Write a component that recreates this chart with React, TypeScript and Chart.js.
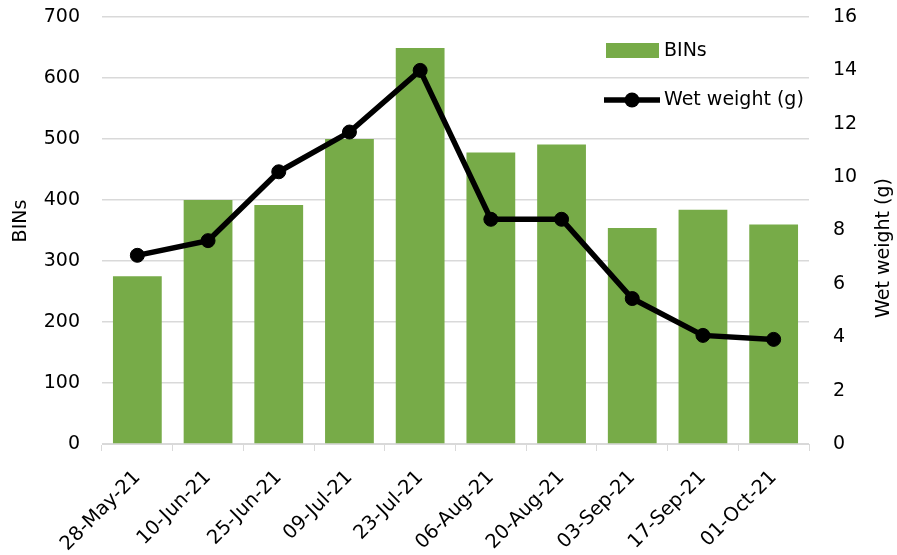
import React, { useEffect, useRef } from "react";
import { Chart, registerables } from "chart.js";

Chart.register(...registerables);

const categories = [
  "28-May-21", "10-Jun-21", "25-Jun-21", "09-Jul-21", "23-Jul-21",
  "06-Aug-21", "20-Aug-21", "03-Sep-21", "17-Sep-21", "01-Oct-21",
];
const binsValues = [275, 400, 392, 500, 649, 478, 491, 354, 384, 360];
const wetWeightValues = [7.07, 7.62, 10.2, 11.69, 14.0, 8.42, 8.42, 5.45, 4.07, 3.92];
const leftTicks = [0, 100, 200, 300, 400, 500, 600, 700];
const rightTicks = [0, 2, 4, 6, 8, 10, 12, 14, 16];

const BAR_COLOR = "#77AB48";
const FONT = "DejaVu Sans";

const overlayPlugin = {
  id: "overlay",
  afterDraw(chart: any) {
    const ctx = chart.ctx as CanvasRenderingContext2D;
    ctx.save();
    ctx.font = `19px "${FONT}"`;
    ctx.fillStyle = "#000";
    ctx.textBaseline = "middle";
    // legend
    ctx.fillStyle = BAR_COLOR;
    ctx.fillRect(606, 43, 53, 15);
    ctx.fillStyle = "#000";
    ctx.textAlign = "left";
    ctx.fillText("BINs", 664, 51);
    ctx.strokeStyle = "#000";
    ctx.lineWidth = 5.5;
    ctx.beginPath();
    ctx.moveTo(604, 100);
    ctx.lineTo(660, 100);
    ctx.stroke();
    ctx.beginPath();
    ctx.arc(632, 100, 7.5, 0, Math.PI * 2);
    ctx.fill();
    ctx.fillText("Wet weight (g)", 664, 100);
    // axis titles
    ctx.textAlign = "center";
    ctx.save();
    ctx.translate(21, 221);
    ctx.rotate(-Math.PI / 2);
    ctx.fillText("BINs", 0, 0);
    ctx.restore();
    ctx.save();
    ctx.translate(884, 248);
    ctx.rotate(-Math.PI / 2);
    ctx.fillText("Wet weight (g)", 0, 0);
    ctx.restore();
    ctx.restore();
  },
};

export default function App() {
  const canvasRef = useRef<HTMLCanvasElement | null>(null);

  useEffect(() => {
    if (!canvasRef.current) return;
    const font = { family: FONT, size: 19 };
    const chart = new Chart(canvasRef.current, {
      type: "bar",
      data: {
        labels: categories,
        datasets: [
          {
            type: "line",
            label: "Wet weight (g)",
            data: wetWeightValues,
            yAxisID: "y1",
            borderColor: "#000",
            backgroundColor: "#000",
            borderWidth: 5.5,
            pointRadius: 7,
            pointBorderWidth: 1,
            pointBackgroundColor: "#000",
            pointBorderColor: "#000",
            tension: 0,
            order: 0,
          } as any,
          {
            type: "bar",
            label: "BINs",
            data: binsValues,
            yAxisID: "y",
            backgroundColor: BAR_COLOR,
            categoryPercentage: 1,
            barPercentage: 0.69,
            order: 1,
          } as any,
        ],
      },
      options: {
        responsive: false,
        animation: false,
        layout: { padding: { top: 17, left: 0, right: 0, bottom: 0 } },
        plugins: {
          legend: { display: false },
          tooltip: { enabled: false },
        },
        scales: {
          x: {
            offset: true,
            grid: {
              offset: true,
              drawOnChartArea: false,
              drawTicks: true,
              tickLength: 7,
              color: "#d9d9d9",
            },
            border: { display: true, color: "#d9d9d9" },
            ticks: {
              font: { family: FONT, size: 19.5 },
              color: "#000",
              maxRotation: 45,
              minRotation: 45,
              padding: 15,
              autoSkip: false,
            },
            afterFit: (s: any) => {
              s.height = 111;
              s.paddingLeft = 0;
              s.paddingRight = 0;
            },
          },
          y: {
            position: "left",
            min: 0,
            max: 700,
            afterBuildTicks: (s: any) => {
              s.ticks = leftTicks.map((v) => ({ value: v }));
            },
            ticks: { font, color: "#000", padding: 22 },
            grid: { color: "#d9d9d9", drawTicks: false, lineWidth: 1.5 },
            border: { display: false },
            afterFit: (s: any) => {
              s.width = 102;
              s.paddingTop = 0;
              s.paddingBottom = 0;
            },
          },
          y1: {
            position: "right",
            min: 0,
            max: 16,
            afterBuildTicks: (s: any) => {
              s.ticks = rightTicks.map((v) => ({ value: v }));
            },
            ticks: { font, color: "#000", padding: 24 },
            grid: { drawOnChartArea: false, drawTicks: false },
            border: { display: false },
            afterFit: (s: any) => {
              s.width = 88;
              s.paddingTop = 0;
              s.paddingBottom = 0;
            },
          },
        },
      },
      plugins: [overlayPlugin],
    });
    return () => chart.destroy();
  }, []);

  return (
    <div style={{ position: "absolute", left: 0, top: 0, width: 897, height: 555, background: "#fff" }}>
      <canvas ref={canvasRef} width={897} height={555} style={{ display: "block" }} />
    </div>
  );
}
